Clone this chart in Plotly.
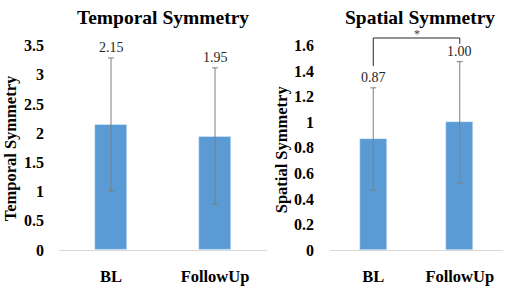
import plotly.graph_objects as go

categories = ["BL", "FollowUp"]
temporal_mean = [2.15, 1.95]
temporal_err = [1.14, 1.17]
spatial_mean = [0.87, 1.00]
spatial_err = [0.40, 0.475]
temporal_ticks = [0, 0.5, 1, 1.5, 2, 2.5, 3, 3.5]
temporal_ticktext = ["0", "0.5", "1", "1.5", "2", "2.5", "3", "3.5"]
spatial_ticks = [0, 0.2, 0.4, 0.6, 0.8, 1.0, 1.2, 1.4, 1.6]
spatial_ticktext = ["0", "0.2", "0.4", "0.6", "0.8", "1", "1.2", "1.4", "1.6"]
bracket_y = [1.44, 1.66, 1.66, 1.615]

W, H = 510, 293
SERIF = "Liberation Serif"
BAR = "#5B9BD5"
ERR = "#7F7F7F"

def py(px):
    return (H - px) / H

fig = go.Figure()
fig.add_trace(go.Bar(
    x=categories, y=temporal_mean, width=0.31, marker_color=BAR,
    error_y=dict(type="data", array=temporal_err, color=ERR, thickness=1, width=3),
    xaxis="x", yaxis="y", showlegend=False, hoverinfo="skip"))
fig.add_trace(go.Bar(
    x=categories, y=spatial_mean, width=0.31, marker_color=BAR,
    error_y=dict(type="data", array=spatial_err, color=ERR, thickness=1, width=3),
    xaxis="x2", yaxis="y2", showlegend=False, hoverinfo="skip"))

y0_px, ytop_px = 257, 40
right_top = 1.7
right_top_px = y0_px - (y0_px - ytop_px) * right_top / 1.6

axfont = dict(family=SERIF, size=16, color="#000000", weight="bold")
catfont = dict(family=SERIF, size=16.5, color="#000000", weight="bold")
fig.update_layout(
    width=W, height=H, margin=dict(l=0, r=0, t=0, b=0),
    paper_bgcolor="white", plot_bgcolor="white",
    bargap=0,
    xaxis=dict(domain=[59 / W, 267 / W], anchor="y", showgrid=False,
               showline=True, linecolor="#D9D9D9", linewidth=1, ticks="",
               tickfont=catfont, ticklabelstandoff=11, fixedrange=True),
    yaxis=dict(domain=[py(y0_px), py(ytop_px)], anchor="x", range=[0, 3.5],
               showgrid=False, showline=False, zeroline=False, ticks="",
               tickvals=temporal_ticks, ticktext=temporal_ticktext,
               tickfont=axfont, ticklabelstandoff=14, fixedrange=True),
    xaxis2=dict(domain=[330 / W, 503 / W], anchor="y2", showgrid=False,
                showline=True, linecolor="#D9D9D9", linewidth=1, ticks="",
                tickfont=catfont, ticklabelstandoff=11, fixedrange=True),
    yaxis2=dict(domain=[py(y0_px), py(right_top_px)], anchor="x2", range=[0, right_top],
                showgrid=False, showline=False, zeroline=False, ticks="",
                tickvals=spatial_ticks, ticktext=spatial_ticktext,
                tickfont=axfont, ticklabelstandoff=15, fixedrange=True),
)

ann = []
ann.append(dict(text="<b>Temporal Symmetry</b>", x=163 / W, y=py(10), xref="paper", yref="paper",
                showarrow=False, font=dict(family=SERIF, size=19.5, color="black"),
                xanchor="center", yanchor="middle"))
ann.append(dict(text="<b>Spatial Symmetry</b>", x=420 / W, y=py(10), xref="paper", yref="paper",
                showarrow=False, font=dict(family=SERIF, size=19.5, color="black"),
                xanchor="center", yanchor="middle"))
ann.append(dict(text="<b>Temporal Symmetry</b>", x=10 / W, y=py(149), xref="paper", yref="paper",
                showarrow=False, textangle=-90, font=dict(family=SERIF, size=16.5, color="black"),
                xanchor="center", yanchor="middle"))
ann.append(dict(text="<b>Spatial Symmetry</b>", x=281 / W, y=py(150), xref="paper", yref="paper",
                showarrow=False, textangle=-90, font=dict(family=SERIF, size=16.5, color="black"),
                xanchor="center", yanchor="middle"))
for xr, yr, means, errs in [("x", "y", temporal_mean, temporal_err), ("x2", "y2", spatial_mean, spatial_err)]:
    for c, m, e in zip(categories, means, errs):
        ann.append(dict(text=f"{m:.2f}", x=c, y=m + e, xref=xr, yref=yr, showarrow=False,
                        font=dict(family=SERIF, size=14, color="#262626"),
                        xanchor="center", yanchor="middle", yshift=10))
ann.append(dict(text="*", x=0.5, y=bracket_y[1], xref="x2", yref="y2", showarrow=False,
                font=dict(family=SERIF, size=12, color="#404040"), borderpad=0,
                xanchor="center", yanchor="bottom", yshift=-4))
fig.update_layout(annotations=ann)

bx = [categories[0], categories[0], categories[1], categories[1]]
for i in range(3):
    fig.add_shape(type="line", xref="x2", yref="y2", x0=bx[i], x1=bx[i + 1],
                  y0=bracket_y[i], y1=bracket_y[i + 1], line=dict(color="#262626", width=1))

fig.write_html("out.html", config={"displayModeBar": False},
               post_script="document.body.style.margin='0';")
